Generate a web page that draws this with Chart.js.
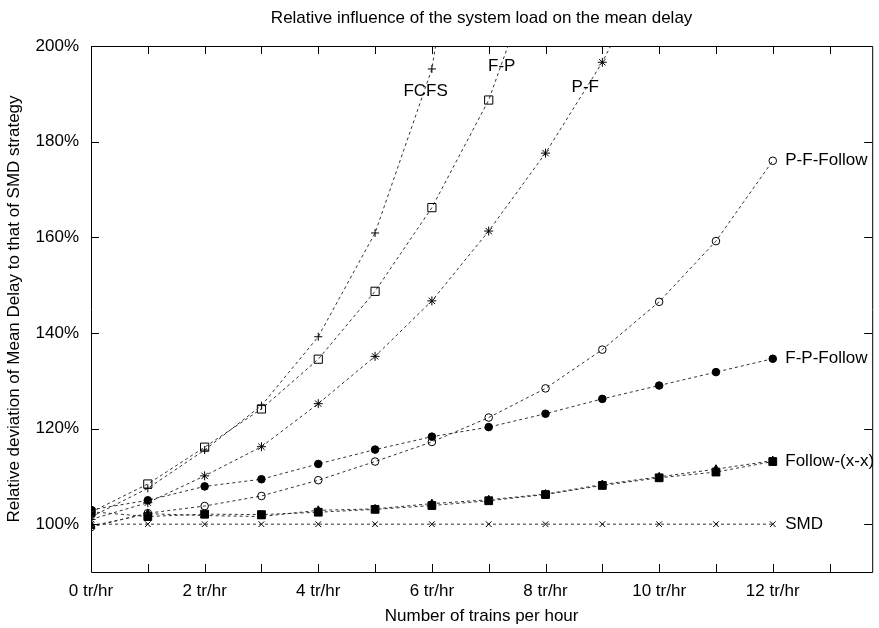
<!DOCTYPE html>
<html>
<head>
<meta charset="utf-8">
<script src="https://cdn.jsdelivr.net/npm/chart.js@4.4.1/dist/chart.umd.min.js"></script>
<style>
  body { margin: 0; background: #fff; }
  canvas { display: block; }
</style>
</head>
<body>
<canvas id="myChart" width="879" height="628"></canvas>
<script>
// trains per hour
const hours = [0, 1, 2, 3, 4, 5, 6, 7, 8, 9, 10, 11, 12];

// relative mean delay, % of SMD
const fcfs = [101.5, 107.5, 115.5, 124.8, 139.2, 160.9, 195.2, 270.0];
const fp = [102.5, 108.4, 116.1, 124.1, 134.5, 148.7, 166.2, 188.7, 222.0];
const pf = [101.0, 104.5, 110.1, 116.2, 125.2, 135.1, 146.7, 161.3, 177.6, 196.6, 220.0];
const pfFollow = [99.4, 102.3, 103.8, 105.9, 109.2, 113.1, 117.2, 122.3, 128.4, 136.5, 146.5, 159.2, 176.0];
const fpFollow = [103.0, 105.0, 107.9, 109.4, 112.6, 115.6, 118.3, 120.3, 123.1, 126.2, 129.0, 131.8, 134.6];
const followA = [102.6, 101.6, 102.1, 102.0, 102.5, 103.1, 103.9, 104.9, 106.2, 108.1, 109.7, 110.9, 113.1];
const followB = [99.6, 102.2, 101.8, 101.6, 102.9, 103.2, 104.3, 105.1, 106.3, 108.3, 109.9, 111.5, 113.3];
const smd = [100, 100, 100, 100, 100, 100, 100, 100, 100, 100, 100, 100, 100];

const xTicks = [0, 1, 2, 3, 4, 5, 6, 7, 8, 9, 10, 11, 12, 13];
const yTicks = [100, 120, 140, 160, 180, 200];

// curve names written next to the lines (data coordinates)
const curveLabels = [
  { text: "FCFS", x: 5.89, y: 190.6, align: "center" },
  { text: "F-P", x: 7.23, y: 195.7, align: "center" },
  { text: "P-F", x: 8.70, y: 191.3, align: "center" },
  { text: "P-F-Follow", x: 12.22, y: 176.0, align: "left" },
  { text: "F-P-Follow", x: 12.22, y: 134.7, align: "left" },
  { text: "Follow-(x-x)", x: 12.22, y: 113.1, align: "left" },
  { text: "SMD", x: 12.22, y: 100.0, align: "left" },
];

const FONT = '"Liberation Sans", Arial, sans-serif';
Chart.defaults.font.family = FONT;
Chart.defaults.font.size = 17;
Chart.defaults.color = "#000";

function pts(values) {
  return values.map((v, i) => ({ x: hours[i], y: v }));
}

function series(label, values, style, radius, filled) {
  return {
    label: label,
    data: pts(values),
    pointStyle: style,
    pointRadius: radius,
    pointHoverRadius: radius,
    borderColor: "#333",
    borderWidth: 1,
    borderDash: [3, 3],
    pointBorderColor: "#000",
    pointBorderWidth: 1,
    pointBackgroundColor: filled ? "#000" : "rgba(0,0,0,0)",
    tension: 0,
    fill: false,
  };
}

const frame = {
  id: "frame",
  afterDatasetsDraw(chart) {
    const { ctx, chartArea: a, scales } = chart;
    ctx.save();
    ctx.strokeStyle = "#000";
    ctx.lineWidth = 1;
    ctx.beginPath();
    ctx.rect(a.left + 0.5, a.top + 0.5, a.right - a.left, a.bottom - a.top);
    scales.x.ticks.forEach(t => {
      const px = Math.round(scales.x.getPixelForValue(t.value)) + 0.5;
      ctx.moveTo(px, a.bottom); ctx.lineTo(px, a.bottom - 8);
      ctx.moveTo(px, a.top); ctx.lineTo(px, a.top + 8);
    });
    scales.y.ticks.forEach(t => {
      const py = Math.round(scales.y.getPixelForValue(t.value)) + 0.5;
      ctx.moveTo(a.left, py); ctx.lineTo(a.left + 8, py);
      ctx.moveTo(a.right, py); ctx.lineTo(a.right - 8, py);
    });
    ctx.stroke();
    ctx.restore();
  },
  afterDraw(chart) {
    const { ctx, chartArea: a, scales } = chart;
    ctx.save();
    ctx.fillStyle = "#000";
    ctx.font = "17px " + FONT;
    ctx.textBaseline = "middle";
    curveLabels.forEach(l => {
      ctx.textAlign = l.align;
      ctx.fillText(l.text, scales.x.getPixelForValue(l.x), scales.y.getPixelForValue(l.y));
    });
    ctx.textAlign = "center";
    ctx.fillText("Relative influence of the system load on the mean delay", (a.left + a.right) / 2, 18);
    ctx.restore();
  },
};

const ctx = document.getElementById("myChart").getContext("2d");

new Chart(ctx, {
  type: "line",
  data: {
    datasets: [
      series("FCFS", fcfs, "cross", 4, false),
      series("F-P", fp, "rect", 5.8, false),
      series("P-F", pf, "star", 4.5, false),
      series("P-F-Follow", pfFollow, "circle", 3.8, false),
      series("F-P-Follow", fpFollow, "circle", 3.8, true),
      series("Follow-(x-x)", followB, "triangle", 4.5, true),
      series("Follow-(x-x)", followA, "rect", 5.5, true),
      series("SMD", smd, "crossRot", 4, false),
    ],
  },
  options: {
    responsive: false,
    animation: false,
    layout: { padding: { top: 46, right: 3, bottom: 0, left: 0 } },
    plugins: {
      legend: { display: false },
      title: { display: false },
      tooltip: { enabled: false },
    },
    scales: {
      x: {
        type: "linear",
        min: 0,
        max: 13.75,
        grid: { display: false, drawTicks: false },
        border: { display: false },
        afterBuildTicks: s => { s.ticks = xTicks.map(v => ({ value: v })); },
        afterFit: s => { s.height = 56; },
        ticks: {
          padding: 9,
          maxRotation: 0,
          autoSkip: false,
          callback: v => (v % 2 === 0 && v <= 12 ? v + " tr/hr" : ""),
        },
        title: {
          display: true,
          text: "Number of trains per hour",
          padding: { top: 0, bottom: 1 },
        },
      },
      y: {
        min: 90,
        max: 200,
        grid: { display: false, drawTicks: false },
        border: { display: false },
        afterBuildTicks: s => { s.ticks = yTicks.map(v => ({ value: v })); },
        afterFit: s => { s.width = 91; },
        ticks: {
          padding: 12,
          callback: v => v + "%",
        },
        title: {
          display: true,
          text: "Relative deviation of Mean Delay to that of SMD strategy",
          padding: { top: 4, bottom: 0 },
        },
      },
    },
  },
  plugins: [frame],
});
</script>
</body>
</html>
